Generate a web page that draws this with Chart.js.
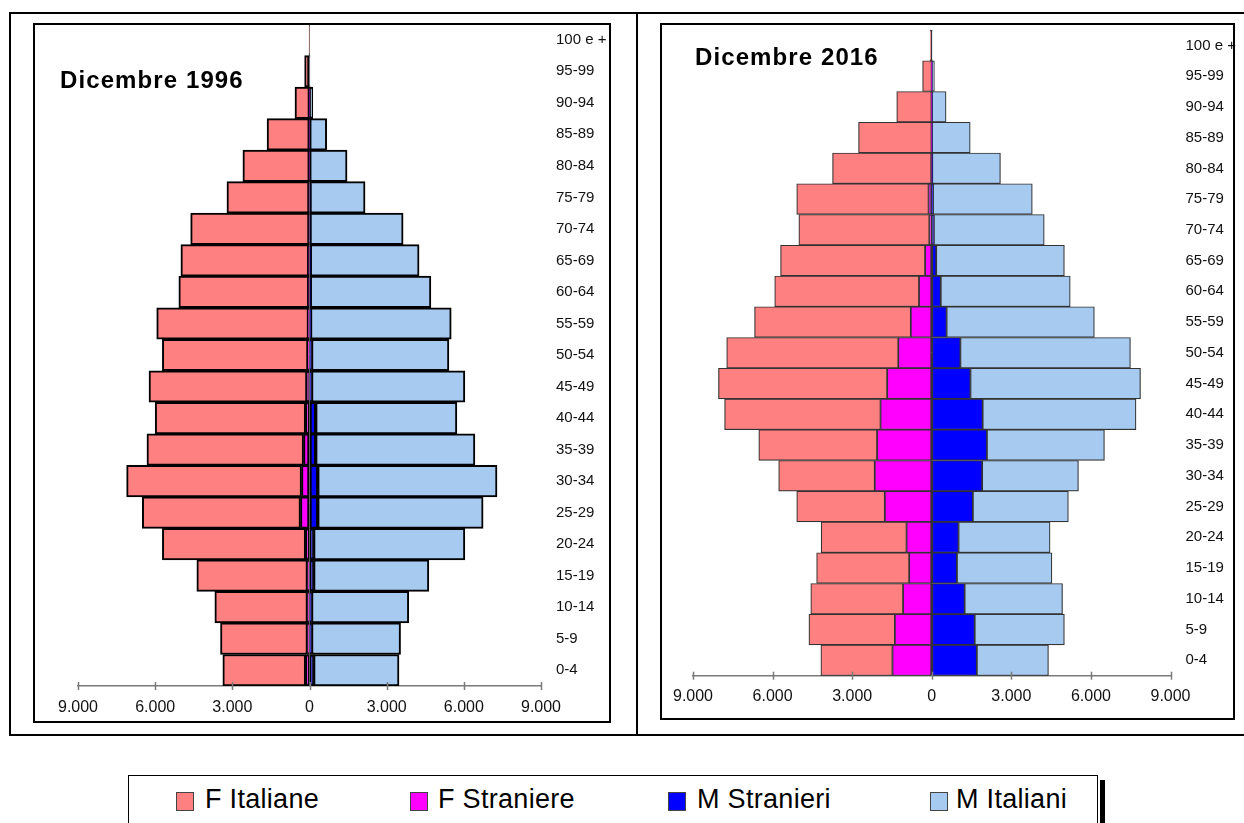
<!DOCTYPE html>
<html>
<head>
<meta charset="utf-8">
<script src="https://cdn.jsdelivr.net/npm/chart.js@4.4.1/dist/chart.umd.min.js"></script>
<style>
  html, body { margin: 0; padding: 0; background: #fff; width: 1244px; height: 823px; overflow: hidden; position: relative; font-family: "Liberation Sans", Arial, sans-serif; }
  .abs { position: absolute; }
  .line { position: absolute; background: #000; }
  .box { position: absolute; border: 2px solid #000; box-sizing: border-box; pointer-events: none; }
  .title { position: absolute; font-weight: bold; font-size: 24px; letter-spacing: 1.1px; color: #000; white-space: nowrap; }
  .leg { position: absolute; font-size: 27px; color: #000; white-space: nowrap; letter-spacing: 0.3px; }
  .sw { position: absolute; width: 16px; height: 17px; border: 1px solid #444; }
</style>
</head>
<body>
<canvas id="c1" class="abs" width="601" height="696" style="left:35px; top:24px;"></canvas>
<canvas id="c2" class="abs" width="581" height="693" style="left:663px; top:25px;"></canvas>

<!-- outer frame -->
<div class="line" style="left:9px; top:12px; width:1235px; height:2px;"></div>
<div class="line" style="left:9px; top:12px; width:2px; height:724px;"></div>
<div class="line" style="left:9px; top:734px; width:1235px; height:2px;"></div>
<div class="line" style="left:636px; top:12px; width:2px; height:724px;"></div>
<!-- inner boxes -->
<div class="box" style="left:33px; top:23px; width:578px; height:700px;"></div>
<div class="box" style="left:660px; top:23px; width:575px; height:697px;"></div>

<div class="title" style="left:60px; top:66px;">Dicembre 1996</div>
<div class="title" style="left:695px; top:43px;">Dicembre 2016</div>

<!-- legend -->
<div class="abs" style="left:128px; top:775px; width:970px; height:60px; border:1.5px solid #000; box-sizing:border-box; background:#fff;"></div>
<div class="line" style="left:1100px; top:780px; width:5px; height:50px;"></div>
<div class="sw" style="left:176px; top:792px; background:#FF8080;"></div>
<div class="leg" style="left:205px; top:784px;">F Italiane</div>
<div class="sw" style="left:410px; top:792px; background:#FF00FF;"></div>
<div class="leg" style="left:438px; top:784px;">F Straniere</div>
<div class="sw" style="left:668px; top:792px; background:#0000FF;"></div>
<div class="leg" style="left:697px; top:784px;">M Stranieri</div>
<div class="sw" style="left:930px; top:792px; background:#A6CAF0;"></div>
<div class="leg" style="left:956px; top:784px;">M Italiani</div>

<script>
// ---- data ----
const AGE_GROUPS = ['0-4','5-9','10-14','15-19','20-24','25-29','30-34','35-39','40-44','45-49','50-54','55-59','60-64','65-69','70-74','75-79','80-84','85-89','90-94','95-99','100 e +'];

const F_ITALIANE_1996  = [3220,3380,3600,4300,5570,6150,6800,6090,5850,6140,5660,5900,5050,4970,4600,3190,2580,1640,560,190,10];
const F_STRANIERE_1996 = [150,80,80,80,150,350,310,230,150,100,60,40,30,30,20,20,10,10,5,0,0];
const M_STRANIERI_1996 = [160,80,80,160,160,320,320,240,240,80,80,40,30,30,20,20,10,10,5,0,0];
const M_ITALIANI_1996  = [3320,3460,3780,4480,5880,6430,6970,6190,5490,5960,5340,5470,4690,4230,3620,2140,1450,660,125,20,0];

const F_ITALIANE_2016  = [2700,3240,3480,3490,3220,3320,3620,4460,5880,6360,6470,5890,5440,5450,4920,4970,3720,2750,1310,340,60];
const F_STRANIERE_2016 = [1480,1390,1080,850,950,1770,2150,2060,1930,1680,1260,790,480,250,90,120,20,10,10,5,0];
const M_STRANIERI_2016 = [1700,1620,1240,950,1010,1550,1900,2080,1920,1460,1080,560,340,170,80,50,20,10,10,5,0];
const M_ITALIANI_2016  = [2700,3380,3690,3580,3450,3600,3630,4430,5780,6410,6410,5570,4880,4830,4160,3740,2570,1440,530,95,10];

const X_MIN = -9000, X_MAX = 9000, X_STEP = 3000;

const COLORS = { fIta: '#FF8080', fStr: '#FF00FF', mStr: '#0000FF', mIta: '#A6CAF0' };

function fmt(v) {
  const a = Math.abs(Math.round(v)).toString();
  return a.replace(/\B(?=(\d{3})+(?!\d))/g, '.');
}

const crossTicks = {
  id: 'crossTicks',
  afterDraw(chart) {
    const sc = chart.scales.x;
    const ctx = chart.ctx;
    ctx.save();
    ctx.strokeStyle = '#7a7a7a';
    ctx.lineWidth = 1.5;
    sc.ticks.forEach((t, i) => {
      const px = Math.round(sc.getPixelForTick(i)) + 0.5;
      ctx.beginPath();
      ctx.moveTo(px, sc.top - 4);
      ctx.lineTo(px, sc.top + 4);
      ctx.stroke();
    });
    ctx.restore();
  }
};

function makeChart(id, fIta, fStr, mStr, mIta, cfg) {
  const ds = (label, data, color, neg) => ({
    label,
    data: data.map(v => neg ? -v : v),
    backgroundColor: color,
    borderColor: cfg.border,
    borderWidth: cfg.bw,
    borderSkipped: false,
    barPercentage: 1,
    categoryPercentage: 1,
    stack: 's'
  });
  return new Chart(document.getElementById(id), {
    type: 'bar',
    data: {
      labels: AGE_GROUPS,
      datasets: [
        ds('F Straniere', fStr, COLORS.fStr, true),
        ds('F Italiane', fIta, COLORS.fIta, true),
        ds('M Stranieri', mStr, COLORS.mStr, false),
        ds('M Italiani', mIta, COLORS.mIta, false)
      ]
    },
    options: {
      indexAxis: 'y',
      responsive: false,
      maintainAspectRatio: false,
      animation: false,
      devicePixelRatio: 1,
      layout: { padding: { left: cfg.padLeft, top: cfg.padTop, right: 0, bottom: 0 } },
      plugins: { legend: { display: false }, tooltip: { enabled: false }, title: { display: false } },
      scales: {
        x: {
          stacked: true,
          min: X_MIN, max: X_MAX,
          afterBuildTicks(scale) {
            const t = [];
            for (let v = X_MIN; v <= X_MAX; v += X_STEP) t.push({ value: v });
            scale.ticks = t;
          },
          afterFit(scale) { scale.height = cfg.xHeight; scale.paddingLeft = 0; scale.paddingRight = 0; },
          grid: {
            display: true,
            drawTicks: false,
            drawOnChartArea: true,
            color: (c) => (c.tick && c.tick.value === 0) ? cfg.zeroColor : 'rgba(0,0,0,0)',
            lineWidth: 1
          },
          border: { display: true, color: '#7a7a7a', width: 1.5 },
          ticks: {
            callback: (v) => fmt(v),
            font: { family: 'Liberation Sans', size: 16 },
            color: '#111',
            padding: cfg.xPad,
            maxRotation: 0,
            autoSkip: false
          }
        },
        y: {
          type: 'category',
          stacked: true,
          position: 'right',
          reverse: true,
          afterFit(scale) { scale.width = cfg.yWidth; scale.paddingTop = 0; scale.paddingBottom = 0; },
          grid: { display: false, drawTicks: false },
          border: { display: false },
          ticks: {
            font: { family: 'Liberation Sans', size: 15 },
            color: '#111',
            padding: 15,
            autoSkip: false
          }
        }
      }
    },
    plugins: [crossTicks]
  });
}

// Left chart: canvas at (35,24) 601x696 -> chart area x 78..541, y 24..686
makeChart('c1', F_ITALIANE_1996, F_STRANIERE_1996, M_STRANIERI_1996, M_ITALIANI_1996, {
  border: '#000', bw: 2, zeroColor: '#777',
  padLeft: 43, padTop: 0, yWidth: 35 + 601 - 541, xHeight: 24 + 696 - 686, xPad: 12
});
// Right chart: canvas at (663,25) 581x693 -> chart area x 693..1170.5, y 30..675.7
makeChart('c2', F_ITALIANE_2016, F_STRANIERE_2016, M_STRANIERI_2016, M_ITALIANI_2016, {
  border: '#333', bw: 1.2, zeroColor: '#333',
  padLeft: 30, padTop: 5, yWidth: 663 + 581 - 1170.5, xHeight: 25 + 693 - 675.7, xPad: 11
});
</script>
</body>
</html>
